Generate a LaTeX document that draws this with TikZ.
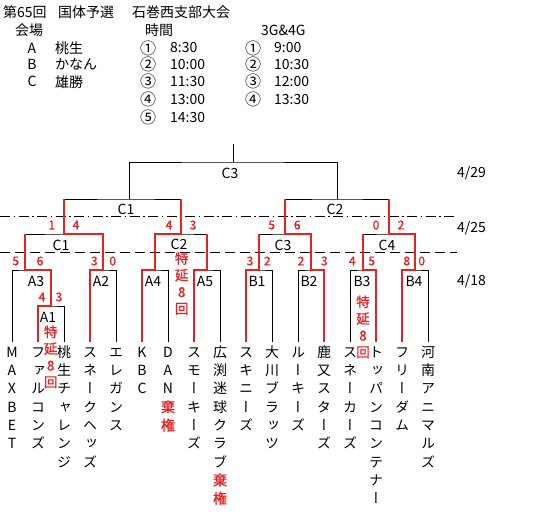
\documentclass[tikz,border=0pt]{standalone}
\usepackage{fontspec}
\setmainfont{Noto Sans CJK JP}
\newfontfamily\tatefont[RawFeature=+vert]{Noto Sans CJK JP}
\newfontfamily\redfont[FakeBold=1.2,RawFeature=+vert]{Noto Sans CJK JP}
\definecolor{winred}{RGB}{230,35,35}
\usetikzlibrary{positioning}

\begin{document}
\begin{tikzpicture}[x=1pt,y=-1pt,
    txt/.style={inner sep=0pt, font=\fontsize{14}{14}\selectfont},
    lft/.style={txt, anchor=west},
    circ/.style={inner sep=0pt, font=\fontsize{16}{16}\selectfont},
    team/.style={anchor=north, inner sep=0pt, align=center,
        font=\tatefont\fontsize{14}{18.3}\selectfont},
    note/.style={anchor=north, inner sep=0pt, align=center, text=winred,
        font=\redfont\fontsize{13.5}{16.7}\selectfont},
    score/.style={inner sep=0pt, text=winred, font=\redfont\fontsize{12}{12}\selectfont},
    base/.style={draw=black, line width=0.8pt},
    win/.style={draw=winred, line width=1.8pt},
    dayline/.style={line width=0.8pt}]
    \useasboundingbox (0,0) rectangle (541,517);

    % Header
    \node[lft] (hd1) at (3,12.5) {第65回};
    \node[lft] (hd2) at (58,12.5) {国体予選};
    \node[lft] (hd3) at (132,12.5) {石巻西支部大会};
    \node[lft] (venue) at (15,30) {会場};
    \node[lft] (hours) at (145,30) {時間};
    \node[lft] (late) at (261,30) {3G\&4G};

    \node[txt] (va) at (32,48) {A};
    \node[txt] (vb) at (32,64.3) {B};
    \node[txt] (vc) at (32,81.7) {C};
    \node[lft] (vna) at (55,48) {桃生};
    \node[lft] (vnb) at (55,64.3) {かなん};
    \node[lft] (vnc) at (55,81.7) {雄勝};

    \node[circ] (n1) at (148,48) {①};
    \node[circ] (n2) at (148,64.3) {②};
    \node[circ] (n3) at (148,81.7) {③};
    \node[circ] (n4) at (148,99.3) {④};
    \node[circ] (n5) at (148,117.3) {⑤};
    \node[lft] (h1) at (170,48) {8:30};
    \node[lft] (h2) at (170,64.3) {10:00};
    \node[lft] (h3) at (170,81.7) {11:30};
    \node[lft] (h4) at (170,99.3) {13:00};
    \node[lft] (h5) at (170,117.3) {14:30};

    \node[circ] (m1) at (253,48) {①};
    \node[circ] (m2) at (253,64.3) {②};
    \node[circ] (m3) at (253,81.7) {③};
    \node[circ] (m4) at (253,99.3) {④};
    \node[lft] (k1) at (274,48) {9:00};
    \node[lft] (k2) at (274,64.3) {10:30};
    \node[lft] (k3) at (274,81.7) {12:00};
    \node[lft] (k4) at (274,99.3) {13:30};

    % Day lines
    \coordinate (dd1) at (0,216);
    \coordinate (dd2) at (457,216);
    \coordinate (dl1) at (0,252);
    \coordinate (dl2) at (457,252);
    \draw[dayline, dash pattern=on 10pt off 3.5pt on 1.5pt off 3.5pt] (dd1) -- (dd2);
    \draw[dayline, dash pattern=on 10pt off 5pt] (dl1) -- (dl2);
    \node[txt] (d29) at (471.5,173) {4/29};
    \node[txt] (d25) at (471.5,228.5) {4/25};
    \node[txt] (d18) at (471.5,281) {4/18};

    % Team line ends
    \coordinate (e1) at (12,342);  \coordinate (e2) at (38,342);
    \coordinate (e3) at (64,342);  \coordinate (e4) at (90,342);
    \coordinate (e5) at (116,342); \coordinate (e6) at (142,342);
    \coordinate (e7) at (168,342); \coordinate (e8) at (194,342);
    \coordinate (e9) at (220,342); \coordinate (e10) at (246,342);
    \coordinate (e11) at (272,342); \coordinate (e12) at (298,342);
    \coordinate (e13) at (324,342); \coordinate (e14) at (350,342);
    \coordinate (e15) at (376,342); \coordinate (e16) at (402,342);
    \coordinate (e17) at (428,342);

    % Teams
    \node[team, below=3pt of e1] (t1) {\rule{0pt}{12pt}M\\A\\X\\B\\E\\T};
    \node[team, below=3pt of e2] (t2) {\rule{0pt}{12pt}フ\\ァ\\ル\\コ\\ン\\ズ};
    \node[team, below=3pt of e3] (t3) {\rule{0pt}{12pt}桃\\生\\チ\\ャ\\レ\\ン\\ジ};
    \node[team, below=3pt of e4] (t4) {\rule{0pt}{12pt}ス\\ネ\\ー\\ク\\ヘ\\ッ\\ズ};
    \node[team, below=3pt of e5] (t5) {\rule{0pt}{12pt}エ\\レ\\ガ\\ン\\ス};
    \node[team, below=3pt of e6] (t6) {\rule{0pt}{12pt}K\\B\\C};
    \node[team, below=3pt of e7] (t7) {\rule{0pt}{12pt}D\\A\\N\\\textcolor{winred}{\redfont 棄}\\\textcolor{winred}{\redfont 権}};
    \node[team, below=3pt of e8] (t8) {\rule{0pt}{12pt}ス\\モ\\ー\\キ\\ー\\ズ};
    \node[team, below=3pt of e9] (t9) {\rule{0pt}{12pt}広\\渕\\迷\\球\\ク\\ラ\\ブ\\\textcolor{winred}{\redfont 棄}\\\textcolor{winred}{\redfont 権}};
    \node[team, below=3pt of e10] (t10) {\rule{0pt}{12pt}ス\\キ\\ニ\\ー\\ズ};
    \node[team, below=3pt of e11] (t11) {\rule{0pt}{12pt}大\\川\\ブ\\ラ\\ッ\\ツ};
    \node[team, below=3pt of e12] (t12) {\rule{0pt}{12pt}ル\\ー\\キ\\ー\\ズ};
    \node[team, below=3pt of e13] (t13) {\rule{0pt}{12pt}鹿\\又\\ス\\タ\\ー\\ズ};
    \node[team, below=3pt of e14] (t14) {\rule{0pt}{12pt}ス\\ネ\\ー\\カ\\ー\\ズ};
    \node[team, below=3pt of e15] (t15) {\rule{0pt}{12pt}ト\\ッ\\パ\\ン\\コ\\ン\\テ\\ナ\\ー};
    \node[team, below=3pt of e16] (t16) {\rule{0pt}{12pt}フ\\リ\\ー\\ダ\\ム};
    \node[team, below=3pt of e17] (t17) {\rule{0pt}{12pt}河\\南\\ア\\ニ\\マ\\ル\\ズ};

    % Match points
    \coordinate (A1) at (51,306);
    \coordinate (A3) at (25,270);  \coordinate (A2) at (103,270);
    \coordinate (A4) at (155,270); \coordinate (A5) at (207,270);
    \coordinate (B1) at (259,270); \coordinate (B2) at (311,270);
    \coordinate (B3) at (363,270); \coordinate (B4) at (415,270);
    \coordinate (c1a) at (64,234);  \coordinate (c2a) at (181,234);
    \coordinate (c3a) at (285,234); \coordinate (c4a) at (389,234);
    \coordinate (c1b) at (129,199); \coordinate (c2b) at (337,199);
    \coordinate (c3b) at (233,162); \coordinate (top) at (233,144);

    % Bracket
    \draw[base] (e2) |- (A1) -| (e3);
    \draw[base] (e1) |- (A3) -| (A1);
    \draw[base] (e4) |- (A2) -| (e5);
    \draw[base] (e6) |- (A4) -| (e7);
    \draw[base] (e8) |- (A5) -| (e9);
    \draw[base] (e10) |- (B1) -| (e11);
    \draw[base] (e12) |- (B2) -| (e13);
    \draw[base] (e14) |- (B3) -| (e15);
    \draw[base] (e16) |- (B4) -| (e17);
    \draw[base] (A3) |- (c1a) -| (A2);
    \draw[base] (A4) |- (c2a) -| (A5);
    \draw[base] (B1) |- (c3a) -| (B2);
    \draw[base] (B3) |- (c4a) -| (B4);
    \draw[base] (c1a) |- (c1b) -| (c2a);
    \draw[base] (c3a) |- (c2b) -| (c4a);
    \draw[base] (c1b) |- (c3b) -| (c2b);
    \draw[base] (c3b) -- (top);

    % Winners
    \draw[win] (e2) |- (A1) |- (A3) -- (A3 |- c1a);
    \draw[win] (e4) |- (A2) |- (c1a) -- (c1a |- c1b);
    \draw[win] (e6) |- (A4) |- (c2a) -- (c2a |- c1b);
    \draw[win] (e8) |- (A5) -- (A5 |- c2a);
    \draw[win] (e10) |- (B1) -- (B1 |- c3a);
    \draw[win] (e13) |- (B2) |- (c3a) -- (c3a |- c2b);
    \draw[win] (e15) |- (B3) -- (B3 |- c4a);
    \draw[win] (e16) |- (B4) |- (c4a) -- (c4a |- c2b);

    % Match labels
    \node[txt] (lA1) at (48,317) {A1};
    \node[txt] (lA3) at (36,281) {A3};
    \node[txt] (lA2) at (101,281) {A2};
    \node[txt] (lA4) at (153,281) {A4};
    \node[txt] (lA5) at (205,281) {A5};
    \node[txt] (lB1) at (257,281) {B1};
    \node[txt] (lB2) at (309,281) {B2};
    \node[txt] (lB3) at (362,281) {B3};
    \node[txt] (lB4) at (414,281) {B4};
    \node[txt] (lC1) at (61,245) {C1};
    \node[txt] (lC2) at (179,244) {C2};
    \node[txt] (lC3) at (283,245) {C3};
    \node[txt] (lC4) at (387,245) {C4};
    \node[txt] (lC1b) at (126,209) {C1};
    \node[txt] (lC2b) at (335,209) {C2};
    \node[txt] (lC3b) at (230,173) {C3};

    % Extra innings
    \node[note] (xA1) at (50.7,325.5) {特\\延\\8\\回};
    \node[note] (xC2) at (181.7,252) {特\\延\\8\\回};
    \node[note] (xB3) at (363,295.5) {特\\延\\8\\回};

    % Scores
    \node[score] (sA1l) at (42,297) {4};    \node[score] (sA1r) at (59,297) {3};
    \node[score] (sA3l) at (15.7,261) {5};  \node[score] (sA3r) at (40,261) {6};
    \node[score] (sA2l) at (94.3,261) {3};  \node[score] (sA2r) at (112.7,261) {0};
    \node[score] (sB1l) at (250,261) {3};   \node[score] (sB1r) at (267.3,261) {2};
    \node[score] (sB2l) at (301,261) {2};   \node[score] (sB2r) at (324.3,261) {3};
    \node[score] (sB3l) at (352.3,261) {4}; \node[score] (sB3r) at (371.7,261) {5};
    \node[score] (sB4l) at (406.7,261) {8}; \node[score] (sB4r) at (421.7,261) {0};
    \node[score] (sC1l) at (51.7,225) {1};  \node[score] (sC1r) at (76,225) {4};
    \node[score] (sC2l) at (169,225) {4};   \node[score] (sC2r) at (193,225) {3};
    \node[score] (sC3l) at (271.7,225) {5}; \node[score] (sC3r) at (297.3,225) {6};
    \node[score] (sC4l) at (376,225) {0};   \node[score] (sC4r) at (401,225) {2};
\end{tikzpicture}
\end{document}
